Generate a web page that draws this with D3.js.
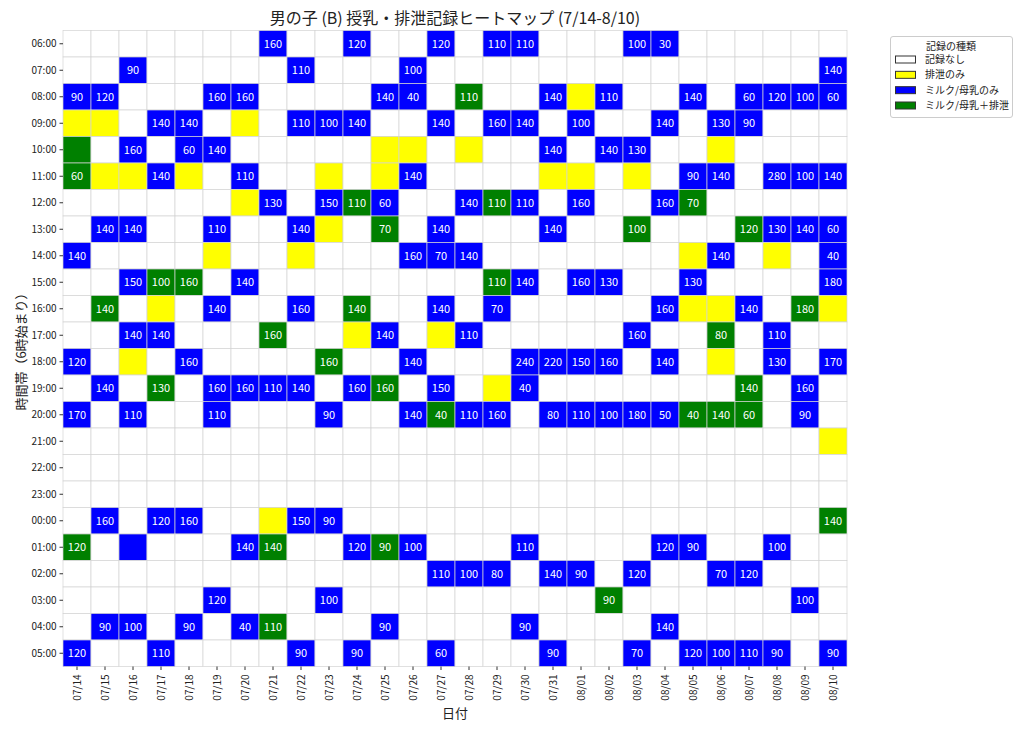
<!DOCTYPE html>
<html><head><meta charset="utf-8">
<script src="https://cdn.jsdelivr.net/npm/d3@7"></script>
<style>
body{margin:0;background:#fff;}
svg text{font-family:"Noto Sans CJK JP","Noto Sans",sans-serif;}
</style>
</head><body>
<svg id="chart" width="1024" height="731"></svg>
<script>
const dates = ["07/14","07/15","07/16","07/17","07/18","07/19","07/20","07/21","07/22","07/23","07/24","07/25","07/26","07/27","07/28","07/29","07/30","07/31","08/01","08/02","08/03","08/04","08/05","08/06","08/07","08/08","08/09","08/10"];
const hours = ["06:00","07:00","08:00","09:00","10:00","11:00","12:00","13:00","14:00","15:00","16:00","17:00","18:00","19:00","20:00","21:00","22:00","23:00","00:00","01:00","02:00","03:00","04:00","05:00"];
const typeNames = ["記録なし","排泄のみ","ミルク/母乳のみ","ミルク/母乳＋排泄"];
const typeColors = ["#ffffff","#ffff00","#0000ff","#008000"];
// 0: none, 1: excretion only, 2: milk only, 3: milk + excretion
const typeGrid = [
[0,0,0,0,0,0,0,2,0,0,2,0,0,2,0,2,2,0,0,0,2,2,0,0,0,0,0,0],
[0,0,2,0,0,0,0,0,2,0,0,0,2,0,0,0,0,0,0,0,0,0,0,0,0,0,0,2],
[2,2,0,0,0,2,2,0,0,0,0,2,2,0,3,0,0,2,1,2,0,0,2,0,2,2,2,2],
[1,1,0,2,2,0,1,0,2,2,2,0,0,2,0,2,2,0,2,0,0,2,0,2,2,0,0,0],
[3,0,2,0,2,2,0,0,0,0,0,1,1,0,1,0,0,2,0,2,2,0,0,1,0,0,0,0],
[3,1,1,2,1,0,2,0,0,1,0,1,2,0,0,0,0,1,1,0,1,0,2,2,0,2,2,2],
[0,0,0,0,0,0,1,2,0,2,3,2,0,0,2,3,2,0,2,0,0,2,3,0,0,0,0,0],
[0,2,2,0,0,2,0,0,2,1,0,3,0,2,0,0,0,2,0,0,3,0,0,0,3,2,2,2],
[2,0,0,0,0,1,0,0,1,0,0,0,2,2,2,0,0,0,0,0,0,0,1,2,0,1,0,2],
[0,0,2,3,3,0,2,0,0,0,0,0,0,0,0,3,2,0,2,2,0,0,2,0,0,0,0,2],
[0,3,0,1,0,2,0,0,2,0,3,0,0,2,0,2,0,0,0,0,0,2,1,1,2,0,3,1],
[0,0,2,2,0,0,0,3,0,0,1,2,0,1,2,0,0,0,0,0,2,0,0,3,0,2,0,0],
[2,0,1,0,2,0,0,0,0,3,0,0,2,0,0,0,2,2,2,2,0,2,0,1,0,2,0,2],
[0,2,0,3,0,2,2,2,2,0,2,3,0,2,0,1,2,0,0,0,0,0,0,0,3,0,2,0],
[2,0,2,0,0,2,0,0,0,2,0,0,2,3,2,2,0,2,2,2,2,2,3,3,3,0,2,0],
[0,0,0,0,0,0,0,0,0,0,0,0,0,0,0,0,0,0,0,0,0,0,0,0,0,0,0,1],
[0,0,0,0,0,0,0,0,0,0,0,0,0,0,0,0,0,0,0,0,0,0,0,0,0,0,0,0],
[0,0,0,0,0,0,0,0,0,0,0,0,0,0,0,0,0,0,0,0,0,0,0,0,0,0,0,0],
[0,2,0,2,2,0,0,1,2,2,0,0,0,0,0,0,0,0,0,0,0,0,0,0,0,0,0,3],
[3,0,2,0,0,0,2,3,0,0,2,3,2,0,0,0,2,0,0,0,0,2,2,0,0,2,0,0],
[0,0,0,0,0,0,0,0,0,0,0,0,0,2,2,2,0,2,2,0,2,0,0,2,2,0,0,0],
[0,0,0,0,0,2,0,0,0,2,0,0,0,0,0,0,0,0,0,3,0,0,0,0,0,0,2,0],
[0,2,2,0,2,0,2,3,0,0,0,2,0,0,0,0,2,0,0,0,0,2,0,0,0,0,0,0],
[2,0,0,2,0,0,0,0,2,0,2,0,0,2,0,0,0,2,0,0,2,0,2,2,2,2,0,2]
];
const amountGrid = [
[0,0,0,0,0,0,0,160,0,0,120,0,0,120,0,110,110,0,0,0,100,30,0,0,0,0,0,0],
[0,0,90,0,0,0,0,0,110,0,0,0,100,0,0,0,0,0,0,0,0,0,0,0,0,0,0,140],
[90,120,0,0,0,160,160,0,0,0,0,140,40,0,110,0,0,140,0,110,0,0,140,0,60,120,100,60],
[0,0,0,140,140,0,0,0,110,100,140,0,0,140,0,160,140,0,100,0,0,140,0,130,90,0,0,0],
[0,0,160,0,60,140,0,0,0,0,0,0,0,0,0,0,0,140,0,140,130,0,0,0,0,0,0,0],
[60,0,0,140,0,0,110,0,0,0,0,0,140,0,0,0,0,0,0,0,0,0,90,140,0,280,100,140],
[0,0,0,0,0,0,0,130,0,150,110,60,0,0,140,110,110,0,160,0,0,160,70,0,0,0,0,0],
[0,140,140,0,0,110,0,0,140,0,0,70,0,140,0,0,0,140,0,0,100,0,0,0,120,130,140,60],
[140,0,0,0,0,0,0,0,0,0,0,0,160,70,140,0,0,0,0,0,0,0,0,140,0,0,0,40],
[0,0,150,100,160,0,140,0,0,0,0,0,0,0,0,110,140,0,160,130,0,0,130,0,0,0,0,180],
[0,140,0,0,0,140,0,0,160,0,140,0,0,140,0,70,0,0,0,0,0,160,0,0,140,0,180,0],
[0,0,140,140,0,0,0,160,0,0,0,140,0,0,110,0,0,0,0,0,160,0,0,80,0,110,0,0],
[120,0,0,0,160,0,0,0,0,160,0,0,140,0,0,0,240,220,150,160,0,140,0,0,0,130,0,170],
[0,140,0,130,0,160,160,110,140,0,160,160,0,150,0,0,40,0,0,0,0,0,0,0,140,0,160,0],
[170,0,110,0,0,110,0,0,0,90,0,0,140,40,110,160,0,80,110,100,180,50,40,140,60,0,90,0],
[0,0,0,0,0,0,0,0,0,0,0,0,0,0,0,0,0,0,0,0,0,0,0,0,0,0,0,0],
[0,0,0,0,0,0,0,0,0,0,0,0,0,0,0,0,0,0,0,0,0,0,0,0,0,0,0,0],
[0,0,0,0,0,0,0,0,0,0,0,0,0,0,0,0,0,0,0,0,0,0,0,0,0,0,0,0],
[0,160,0,120,160,0,0,0,150,90,0,0,0,0,0,0,0,0,0,0,0,0,0,0,0,0,0,140],
[120,0,0,0,0,0,140,140,0,0,120,90,100,0,0,0,110,0,0,0,0,120,90,0,0,100,0,0],
[0,0,0,0,0,0,0,0,0,0,0,0,0,110,100,80,0,140,90,0,120,0,0,70,120,0,0,0],
[0,0,0,0,0,120,0,0,0,100,0,0,0,0,0,0,0,0,0,90,0,0,0,0,0,0,100,0],
[0,90,100,0,90,0,40,110,0,0,0,90,0,0,0,0,90,0,0,0,0,140,0,0,0,0,0,0],
[120,0,0,110,0,0,0,0,90,0,90,0,0,60,0,0,0,90,0,0,70,0,120,100,110,90,0,90]
];
const titleText = "男の子 (B) 授乳・排泄記録ヒートマップ (7/14-8/10)";
const xLabel = "日付";
const yLabel = "時間帯（6時始まり）";
const legendTitle = "記録の種類";

(function(){
const svg = d3.select("#chart");
const pL = 63, pR = 847, pT = 30.5, pB = 666.5;
const x = d3.scaleBand().domain(dates).range([pL, pR]);
const y = d3.scaleBand().domain(hours).range([pT, pB]);
const color = d3.scaleOrdinal().domain([0,1,2,3]).range(typeColors);

const cells = [];
hours.forEach((h, i) => dates.forEach((d, j) => {
  cells.push({h, d, t: typeGrid[i][j], a: amountGrid[i][j]});
}));

const g = svg.append("g");
g.selectAll("rect.cell").data(cells).join("rect")
  .attr("class","cell")
  .attr("x", c => x(c.d)).attr("y", c => y(c.h))
  .attr("width", x.bandwidth()).attr("height", y.bandwidth())
  .attr("fill", c => color(c.t))
  .attr("stroke", "#d3d3d3").attr("stroke-width", 0.7);

g.selectAll("text.val").data(cells.filter(c => c.a > 0)).join("text")
  .attr("class","val")
  .attr("x", c => x(c.d) + x.bandwidth()/2)
  .attr("y", c => y(c.h) + y.bandwidth()/2)
  .attr("dy","0.36em")
  .attr("text-anchor","middle")
  .attr("font-size", 11)
  .attr("fill", "#ffffff")
  .text(c => c.a);

const xAxis = svg.append("g").attr("transform", `translate(0,${pB})`)
  .call(d3.axisBottom(x).tickSize(3.5).tickSizeOuter(0));
xAxis.select(".domain").remove();
xAxis.selectAll(".tick line").attr("stroke","#333");
xAxis.selectAll(".tick text")
  .attr("transform","rotate(-90)")
  .attr("x", -8).attr("y", 0).attr("dy","0.35em")
  .attr("text-anchor","end")
  .attr("font-size", 10).attr("fill","#222")
  .style("font-family", '"Noto Sans CJK JP",sans-serif');

const yAxis = svg.append("g").attr("transform", `translate(${pL},0)`)
  .call(d3.axisLeft(y).tickSize(3.5).tickSizeOuter(0));
yAxis.select(".domain").remove();
yAxis.selectAll(".tick line").attr("stroke","#333");
yAxis.selectAll(".tick text")
  .attr("x", -6.5).attr("dy","0.34em")
  .attr("font-size", 10).attr("fill","#222")
  .style("font-family", '"Noto Sans CJK JP",sans-serif');

svg.append("text").attr("x", (pL+pR)/2).attr("y", 24)
  .attr("text-anchor","middle").attr("font-size", 16).attr("fill","#222")
  .text(titleText);
svg.append("text").attr("x", (pL+pR)/2).attr("y", 718)
  .attr("text-anchor","middle").attr("font-size", 13).attr("fill","#222")
  .text(xLabel);
svg.append("text").attr("transform", `translate(26,${(pT+pB)/2}) rotate(-90)`)
  .attr("text-anchor","middle").attr("font-size", 13).attr("fill","#222")
  .text(yLabel);

const lg = svg.append("g");
lg.append("rect").attr("x", 890.5).attr("y", 36.5).attr("width", 122).attr("height", 81)
  .attr("rx", 2.5).attr("fill","#fff").attr("stroke","#cccccc");
lg.append("text").attr("x", 951).attr("y", 50).attr("text-anchor","middle")
  .attr("font-size", 10).attr("fill","#222").text(legendTitle);
const ly = d3.scalePoint().domain(typeNames).range([59.5, 105.5]);
lg.selectAll("rect.sw").data(typeNames).join("rect").attr("class","sw")
  .attr("x", 895.5).attr("y", d => ly(d) - 3.5).attr("width", 20).attr("height", 7)
  .attr("fill", (d,i) => typeColors[i]).attr("stroke","#333").attr("stroke-width",1);
lg.selectAll("text.lt").data(typeNames).join("text").attr("class","lt")
  .attr("x", 925).attr("y", d => ly(d)).attr("dy","0.35em")
  .attr("font-size", 10).attr("fill","#222").text(d => d);
})();
</script>
</body></html>
